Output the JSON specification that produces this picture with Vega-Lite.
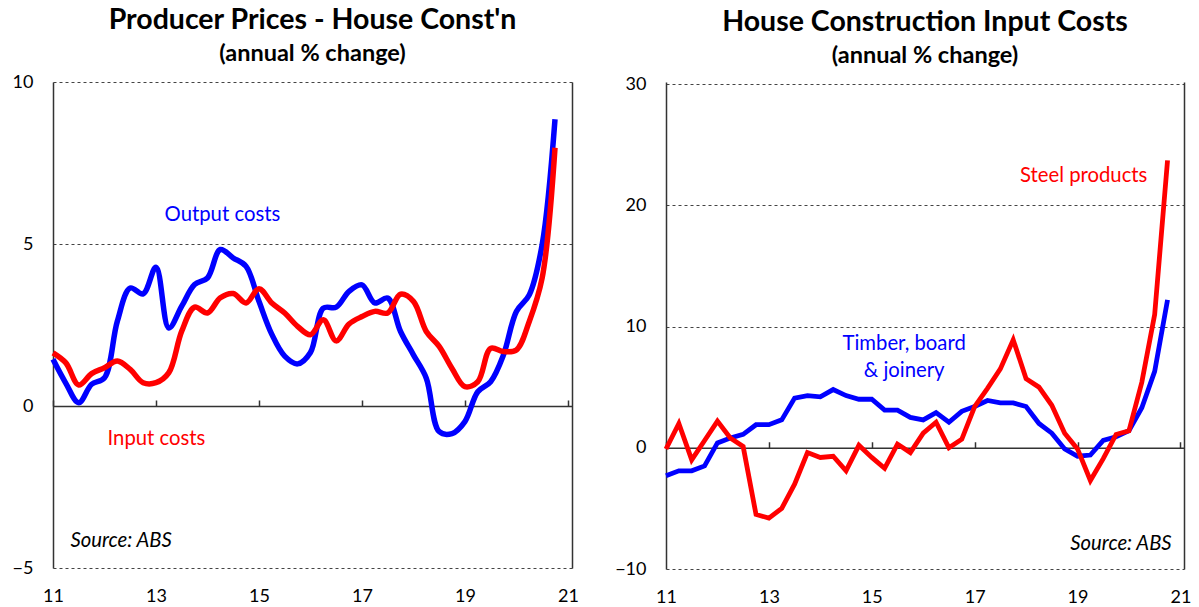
{
  "$schema": "https://vega.github.io/schema/vega-lite/v6.json",
  "autosize": {"type": "pad"},
  "padding": {"left": 12, "top": 6, "right": 5, "bottom": 0},
  "background": "white",
  "bounds": "flush",
  "spacing": 94,
  "config": {
    "font": "Lato",
    "view": {"stroke": null},
    "axis": {"labelFont": "Lato", "labelFontSize": 18, "labelColor": "black", "gridColor": "#444", "gridDash": [3, 3], "gridWidth": 1, "domainColor": "#333", "tickColor": "#333", "domainWidth": 1.5, "tickWidth": 1.5},
    "title": {"font": "Lato", "fontSize": 28.5, "fontWeight": "bold", "color": "black", "subtitleFont": "Lato", "subtitleFontSize": 23.5, "subtitleFontWeight": "bold", "subtitleColor": "black", "anchor": "middle", "offset": 8, "subtitlePadding": 7}
  },
  "datasets": {
    "left": [
      {"t": 11.0, "v": 1.44, "s": "Output"}, {"t": 11.25, "v": 0.7, "s": "Output"}, {"t": 11.5, "v": 0.1, "s": "Output"}, {"t": 11.75, "v": 0.67, "s": "Output"},
      {"t": 12.0, "v": 0.87, "s": "Output"}, {"t": 12.25, "v": 2.62, "s": "Output"}, {"t": 12.5, "v": 3.64, "s": "Output"}, {"t": 12.75, "v": 3.46, "s": "Output"},
      {"t": 13.0, "v": 4.28, "s": "Output"}, {"t": 13.25, "v": 2.41, "s": "Output"}, {"t": 13.5, "v": 3.08, "s": "Output"}, {"t": 13.75, "v": 3.75, "s": "Output"},
      {"t": 14.0, "v": 3.95, "s": "Output"}, {"t": 14.25, "v": 4.83, "s": "Output"}, {"t": 14.5, "v": 4.57, "s": "Output"}, {"t": 14.75, "v": 4.31, "s": "Output"},
      {"t": 15.0, "v": 3.23, "s": "Output"}, {"t": 15.25, "v": 2.21, "s": "Output"}, {"t": 15.5, "v": 1.54, "s": "Output"}, {"t": 15.75, "v": 1.3, "s": "Output"},
      {"t": 16.0, "v": 1.65, "s": "Output"}, {"t": 16.25, "v": 3.02, "s": "Output"}, {"t": 16.5, "v": 3.05, "s": "Output"}, {"t": 16.75, "v": 3.54, "s": "Output"},
      {"t": 17.0, "v": 3.74, "s": "Output"}, {"t": 17.25, "v": 3.18, "s": "Output"}, {"t": 17.5, "v": 3.33, "s": "Output"}, {"t": 17.75, "v": 2.3, "s": "Output"},
      {"t": 18.0, "v": 1.58, "s": "Output"}, {"t": 18.25, "v": 0.86, "s": "Output"}, {"t": 18.5, "v": -0.79, "s": "Output"}, {"t": 18.75, "v": -0.85, "s": "Output"},
      {"t": 19.0, "v": -0.48, "s": "Output"}, {"t": 19.25, "v": 0.44, "s": "Output"}, {"t": 19.5, "v": 0.75, "s": "Output"}, {"t": 19.75, "v": 1.58, "s": "Output"},
      {"t": 20.0, "v": 2.92, "s": "Output"}, {"t": 20.25, "v": 3.43, "s": "Output"}, {"t": 20.5, "v": 4.98, "s": "Output"}, {"t": 20.75, "v": 8.85, "s": "Output"},
      {"t": 11.0, "v": 1.64, "s": "Input"}, {"t": 11.25, "v": 1.33, "s": "Input"}, {"t": 11.5, "v": 0.65, "s": "Input"}, {"t": 11.75, "v": 1.0, "s": "Input"},
      {"t": 12.0, "v": 1.18, "s": "Input"}, {"t": 12.25, "v": 1.39, "s": "Input"}, {"t": 12.5, "v": 1.13, "s": "Input"}, {"t": 12.75, "v": 0.72, "s": "Input"},
      {"t": 13.0, "v": 0.72, "s": "Input"}, {"t": 13.25, "v": 1.03, "s": "Input"}, {"t": 13.5, "v": 2.31, "s": "Input"}, {"t": 13.75, "v": 3.05, "s": "Input"},
      {"t": 14.0, "v": 2.87, "s": "Input"}, {"t": 14.25, "v": 3.34, "s": "Input"}, {"t": 14.5, "v": 3.47, "s": "Input"}, {"t": 14.75, "v": 3.18, "s": "Input"},
      {"t": 15.0, "v": 3.62, "s": "Input"}, {"t": 15.25, "v": 3.18, "s": "Input"}, {"t": 15.5, "v": 2.87, "s": "Input"}, {"t": 15.75, "v": 2.46, "s": "Input"},
      {"t": 16.0, "v": 2.2, "s": "Input"}, {"t": 16.25, "v": 2.66, "s": "Input"}, {"t": 16.5, "v": 2.01, "s": "Input"}, {"t": 16.75, "v": 2.53, "s": "Input"},
      {"t": 17.0, "v": 2.76, "s": "Input"}, {"t": 17.25, "v": 2.92, "s": "Input"}, {"t": 17.5, "v": 2.87, "s": "Input"}, {"t": 17.75, "v": 3.45, "s": "Input"},
      {"t": 18.0, "v": 3.23, "s": "Input"}, {"t": 18.25, "v": 2.3, "s": "Input"}, {"t": 18.5, "v": 1.84, "s": "Input"}, {"t": 18.75, "v": 1.16, "s": "Input"},
      {"t": 19.0, "v": 0.6, "s": "Input"}, {"t": 19.25, "v": 0.75, "s": "Input"}, {"t": 19.5, "v": 1.78, "s": "Input"}, {"t": 19.75, "v": 1.68, "s": "Input"},
      {"t": 20.0, "v": 1.73, "s": "Input"}, {"t": 20.25, "v": 2.61, "s": "Input"}, {"t": 20.5, "v": 3.95, "s": "Input"}, {"t": 20.75, "v": 7.97, "s": "Input"}
    ],
    "leftLabels": [
      {"t": 14.29, "v": 5.9, "s": "Output", "label": "Output costs"},
      {"t": 13.01, "v": -1.02, "s": "Input", "label": "Input costs"}
    ],
    "leftSource": [{"t": 11.34, "v": -4.17, "label": "Source: ABS"}],
    "right": [
      {"t": 11.0, "v": -2.3, "s": "Timber"}, {"t": 11.25, "v": -1.9, "s": "Timber"}, {"t": 11.5, "v": -1.9, "s": "Timber"}, {"t": 11.75, "v": -1.5, "s": "Timber"},
      {"t": 12.0, "v": 0.4, "s": "Timber"}, {"t": 12.25, "v": 0.8, "s": "Timber"}, {"t": 12.5, "v": 1.1, "s": "Timber"}, {"t": 12.75, "v": 1.9, "s": "Timber"},
      {"t": 13.0, "v": 1.9, "s": "Timber"}, {"t": 13.25, "v": 2.3, "s": "Timber"}, {"t": 13.5, "v": 4.1, "s": "Timber"}, {"t": 13.75, "v": 4.3, "s": "Timber"},
      {"t": 14.0, "v": 4.2, "s": "Timber"}, {"t": 14.25, "v": 4.8, "s": "Timber"}, {"t": 14.5, "v": 4.3, "s": "Timber"}, {"t": 14.75, "v": 4.0, "s": "Timber"},
      {"t": 15.0, "v": 4.0, "s": "Timber"}, {"t": 15.25, "v": 3.1, "s": "Timber"}, {"t": 15.5, "v": 3.1, "s": "Timber"}, {"t": 15.75, "v": 2.5, "s": "Timber"},
      {"t": 16.0, "v": 2.3, "s": "Timber"}, {"t": 16.25, "v": 2.9, "s": "Timber"}, {"t": 16.5, "v": 2.1, "s": "Timber"}, {"t": 16.75, "v": 3.0, "s": "Timber"},
      {"t": 17.0, "v": 3.4, "s": "Timber"}, {"t": 17.25, "v": 3.9, "s": "Timber"}, {"t": 17.5, "v": 3.7, "s": "Timber"}, {"t": 17.75, "v": 3.7, "s": "Timber"},
      {"t": 18.0, "v": 3.4, "s": "Timber"}, {"t": 18.25, "v": 2.0, "s": "Timber"}, {"t": 18.5, "v": 1.2, "s": "Timber"}, {"t": 18.75, "v": -0.1, "s": "Timber"},
      {"t": 19.0, "v": -0.7, "s": "Timber"}, {"t": 19.25, "v": -0.6, "s": "Timber"}, {"t": 19.5, "v": 0.6, "s": "Timber"}, {"t": 19.75, "v": 0.9, "s": "Timber"},
      {"t": 20.0, "v": 1.4, "s": "Timber"}, {"t": 20.25, "v": 3.3, "s": "Timber"}, {"t": 20.5, "v": 6.3, "s": "Timber"}, {"t": 20.75, "v": 12.2, "s": "Timber"},
      {"t": 11.0, "v": -0.1, "s": "Steel"}, {"t": 11.25, "v": 2.0, "s": "Steel"}, {"t": 11.5, "v": -1.0, "s": "Steel"}, {"t": 11.75, "v": 0.6, "s": "Steel"},
      {"t": 12.0, "v": 2.2, "s": "Steel"}, {"t": 12.25, "v": 0.8, "s": "Steel"}, {"t": 12.5, "v": 0.1, "s": "Steel"}, {"t": 12.75, "v": -5.5, "s": "Steel"},
      {"t": 13.0, "v": -5.8, "s": "Steel"}, {"t": 13.25, "v": -5.0, "s": "Steel"}, {"t": 13.5, "v": -3.0, "s": "Steel"}, {"t": 13.75, "v": -0.4, "s": "Steel"},
      {"t": 14.0, "v": -0.8, "s": "Steel"}, {"t": 14.25, "v": -0.7, "s": "Steel"}, {"t": 14.5, "v": -1.9, "s": "Steel"}, {"t": 14.75, "v": 0.2, "s": "Steel"},
      {"t": 15.0, "v": -0.8, "s": "Steel"}, {"t": 15.25, "v": -1.7, "s": "Steel"}, {"t": 15.5, "v": 0.3, "s": "Steel"}, {"t": 15.75, "v": -0.4, "s": "Steel"},
      {"t": 16.0, "v": 1.2, "s": "Steel"}, {"t": 16.25, "v": 2.1, "s": "Steel"}, {"t": 16.5, "v": 0.0, "s": "Steel"}, {"t": 16.75, "v": 0.7, "s": "Steel"},
      {"t": 17.0, "v": 3.4, "s": "Steel"}, {"t": 17.25, "v": 4.9, "s": "Steel"}, {"t": 17.5, "v": 6.5, "s": "Steel"}, {"t": 17.75, "v": 8.9, "s": "Steel"},
      {"t": 18.0, "v": 5.7, "s": "Steel"}, {"t": 18.25, "v": 5.0, "s": "Steel"}, {"t": 18.5, "v": 3.5, "s": "Steel"}, {"t": 18.75, "v": 1.2, "s": "Steel"},
      {"t": 19.0, "v": -0.1, "s": "Steel"}, {"t": 19.25, "v": -2.7, "s": "Steel"}, {"t": 19.5, "v": -0.9, "s": "Steel"}, {"t": 19.75, "v": 1.1, "s": "Steel"},
      {"t": 20.0, "v": 1.4, "s": "Steel"}, {"t": 20.25, "v": 5.4, "s": "Steel"}, {"t": 20.5, "v": 11.0, "s": "Steel"}, {"t": 20.75, "v": 23.7, "s": "Steel"}
    ],
    "rightLabels": [
      {"t": 19.12, "v": 22.45, "s": "Steel", "label": "Steel products"},
      {"t": 15.63, "v": 8.55, "s": "Timber", "label": "Timber, board"},
      {"t": 15.63, "v": 6.32, "s": "Timber", "label": "& joinery"}
    ],
    "rightSource": [{"t": 20.83, "v": -7.94, "label": "Source: ABS"}]
  },
  "hconcat": [
    {
      "width": 519,
      "height": 486,
      "title": {"text": "Producer Prices - House Const'n", "subtitle": "(annual % change)"},
      "resolve": {"axis": {"x": "independent", "y": "independent"}},
      "layer": [
        {
          "data": {"name": "left"},
          "mark": {"type": "line", "interpolate": "catmull-rom", "strokeWidth": 5.5},
          "encoding": {
            "x": {"field": "t", "type": "quantitative", "scale": {"domain": [11, 21.08], "nice": false, "zero": false},
                  "axis": {"orient": "bottom", "values": [11, 13, 15, 17, 19, 21], "ticks": false, "tickSize": 0, "domain": false, "grid": false, "labelPadding": 19, "title": null, "format": "d", "labelFlush": false}},
            "y": {"field": "v", "type": "quantitative", "scale": {"domain": [-5, 10], "nice": false, "zero": false},
                  "axis": {"orient": "left", "values": [-5, 0, 5, 10], "ticks": false, "tickSize": 0, "domain": true, "grid": true, "labelPadding": 20, "title": null, "labelFlush": false}},
            "color": {"field": "s", "type": "nominal", "scale": {"domain": ["Output", "Input"], "range": ["#0000ff", "#ff0000"]}, "legend": null}
          }
        },
        {
          "data": {"name": "leftLabels"},
          "mark": {"type": "text", "fontSize": 20.3, "font": "Lato"},
          "encoding": {
            "x": {"field": "t", "type": "quantitative",
                  "axis": {"orient": "top", "offset": -324, "values": [11, 13, 15, 17, 19, 21], "labels": false, "ticks": true, "tickSize": 6, "domain": true, "grid": false, "title": null}},
            "y": {"field": "v", "type": "quantitative",
                  "axis": {"orient": "right", "labels": false, "ticks": false, "domain": true, "grid": false, "title": null}},
            "text": {"field": "label"},
            "color": {"field": "s", "type": "nominal", "legend": null}
          }
        },
        {
          "data": {"name": "leftSource"},
          "mark": {"type": "text", "fontSize": 20.3, "font": "Lato", "fontStyle": "italic", "align": "left", "color": "black"},
          "encoding": {
            "x": {"field": "t", "type": "quantitative", "axis": null},
            "y": {"field": "v", "type": "quantitative", "axis": null},
            "text": {"field": "label"}
          }
        }
      ]
    },
    {
      "width": 518,
      "height": 487,
      "title": {"text": "House Construction Input Costs", "subtitle": "(annual % change)"},
      "resolve": {"axis": {"x": "independent", "y": "independent"}},
      "layer": [
        {
          "data": {"name": "right"},
          "mark": {"type": "line", "strokeWidth": 4.8},
          "encoding": {
            "x": {"field": "t", "type": "quantitative", "scale": {"domain": [11, 21.07], "nice": false, "zero": false},
                  "axis": {"orient": "bottom", "values": [11, 13, 15, 17, 19, 21], "ticks": false, "tickSize": 0, "domain": false, "grid": false, "labelPadding": 19, "title": null, "format": "d", "labelFlush": false}},
            "y": {"field": "v", "type": "quantitative", "scale": {"domain": [-10, 30.165], "nice": false, "zero": false},
                  "axis": {"orient": "left", "values": [-10, 0, 10, 20, 30], "ticks": false, "tickSize": 0, "domain": true, "grid": true, "labelPadding": 20, "title": null, "labelFlush": false}},
            "color": {"field": "s", "type": "nominal", "scale": {"domain": ["Timber", "Steel"], "range": ["#0000ff", "#ff0000"]}, "legend": null}
          }
        },
        {
          "data": {"name": "rightLabels"},
          "mark": {"type": "text", "fontSize": 20.3, "font": "Lato"},
          "encoding": {
            "x": {"field": "t", "type": "quantitative",
                  "axis": {"orient": "top", "offset": -365.75, "values": [11, 13, 15, 17, 19, 21], "labels": false, "ticks": true, "tickSize": 6, "domain": true, "grid": false, "title": null}},
            "y": {"field": "v", "type": "quantitative",
                  "axis": {"orient": "right", "labels": false, "ticks": false, "domain": true, "grid": false, "title": null}},
            "text": {"field": "label"},
            "color": {"field": "s", "type": "nominal", "legend": null}
          }
        },
        {
          "data": {"name": "rightSource"},
          "mark": {"type": "text", "fontSize": 20.3, "font": "Lato", "fontStyle": "italic", "align": "right", "color": "black"},
          "encoding": {
            "x": {"field": "t", "type": "quantitative", "axis": null},
            "y": {"field": "v", "type": "quantitative", "axis": null},
            "text": {"field": "label"}
          }
        }
      ]
    }
  ]
}
